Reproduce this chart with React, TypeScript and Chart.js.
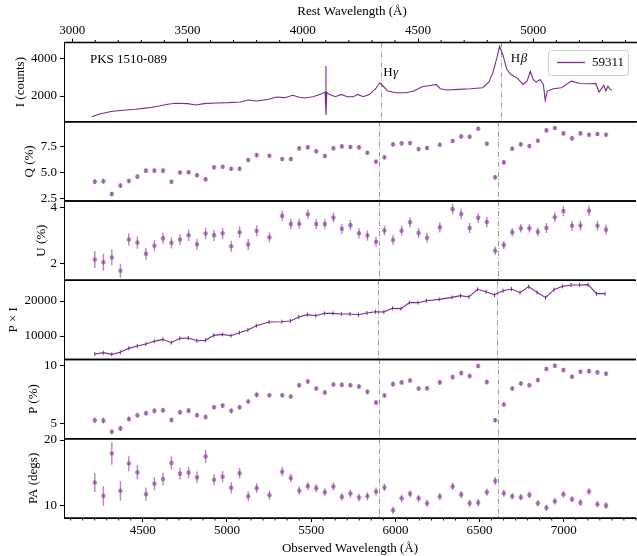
import React, { useEffect, useRef } from 'react';
import { Chart, registerables } from 'chart.js';

Chart.register(...registerables);

const FONT = "'Liberation Serif', 'Times New Roman', serif";
const LINE_COLOR = '#7a2a8c';
const PT_COLOR = 'rgba(122, 38, 142, 0.55)';
const Z1 = 1.36;
const OBS_MIN = 4032;
const OBS_MAX = 7429;
const LEFT_W = 64;
const CANVAS_W = 640;

const restLines = [4340, 4861];
const restTicks = [3000, 3500, 4000, 4500, 5000];
const obsTicks = [4500, 5000, 5500, 6000, 6500, 7000];

// binned polarimetry (observed wavelength, Å)
const binWl = [
  4215, 4266, 4316, 4367, 4417, 4468, 4519, 4569, 4620, 4670,
  4721, 4772, 4822, 4873, 4923, 4974, 5025, 5075, 5126, 5176,
  5252, 5328, 5379, 5429, 5480, 5530, 5581, 5632, 5682, 5733,
  5784, 5834, 5885, 5935, 5986, 6037, 6087, 6138, 6188, 6264,
  6340, 6391, 6441, 6492, 6543, 6593, 6644, 6694, 6745, 6796,
  6846, 6897, 6947, 6998, 7049, 7099, 7150, 7200, 7251,
];
const qVal = [
  4.11, 4.15, 2.92, 3.73, 4.18, 4.6, 5.18, 5.18, 5.18, 4.11,
  5.0, 5.02, 4.73, 4.34, 5.5, 5.56, 5.37, 5.37, 6.21, 6.69,
  6.63, 6.31, 6.31, 7.34, 7.44, 7.05, 6.6, 7.34, 7.53, 7.47,
  7.44, 6.92, 6.05, 6.47, 7.73, 7.82, 7.85, 7.27, 7.37, 7.69,
  8.05, 8.5, 8.47, 9.24, 7.79, 4.53, 5.98, 7.31, 7.73, 7.56,
  8.08, 9.08, 9.31, 8.79, 8.31, 8.79, 8.66, 8.73, 8.66,
];
const qErr = [
  0.25, 0.25, 0.22, 0.22, 0.22, 0.22, 0.22, 0.22, 0.22, 0.22,
  0.22, 0.22, 0.22, 0.22, 0.2, 0.2, 0.2, 0.2, 0.2, 0.2,
  0.2, 0.2, 0.2, 0.2, 0.2, 0.2, 0.2, 0.2, 0.2, 0.2,
  0.2, 0.2, 0.2, 0.2, 0.2, 0.2, 0.2, 0.2, 0.2, 0.2,
  0.2, 0.2, 0.2, 0.2, 0.2, 0.2, 0.2, 0.2, 0.2, 0.2,
  0.2, 0.2, 0.2, 0.2, 0.2, 0.2, 0.2, 0.2, 0.2,
];
const uVal = [
  2.16, 2.06, 2.23, 1.76, 2.87, 2.76, 2.36, 2.65, 2.91, 2.75,
  2.87, 3.02, 2.7, 3.08, 3.02, 3.09, 2.63, 3.13, 2.69, 3.18,
  2.95, 3.71, 3.42, 3.43, 3.77, 3.42, 3.42, 3.65, 3.25, 3.38,
  3.09, 3.01, 2.79, 3.19, 2.85, 3.18, 3.48, 3.1, 2.93, 3.3,
  3.95, 3.78, 3.28, 3.64, 3.49, 2.47, 2.67, 3.13, 3.27, 3.27,
  3.14, 3.28, 3.66, 3.88, 3.36, 3.37, 3.89, 3.36, 3.22,
];
const uErr = [
  0.3, 0.3, 0.28, 0.25, 0.22, 0.22, 0.22, 0.2, 0.2, 0.2,
  0.2, 0.2, 0.2, 0.2, 0.2, 0.2, 0.2, 0.2, 0.2, 0.2,
  0.18, 0.18, 0.18, 0.18, 0.18, 0.18, 0.18, 0.18, 0.18, 0.18,
  0.18, 0.18, 0.18, 0.18, 0.18, 0.18, 0.18, 0.18, 0.18, 0.18,
  0.18, 0.18, 0.18, 0.18, 0.18, 0.15, 0.15, 0.15, 0.15, 0.15,
  0.15, 0.18, 0.18, 0.18, 0.18, 0.18, 0.18, 0.18, 0.18,
];
const piVal = [
  4857, 5238, 4762, 5333, 6476, 7143, 7714, 8476, 9048, 8095,
  9333, 9429, 8667, 8762, 10190, 10476, 10095, 10952, 11714, 12952,
  14000, 14095, 14286, 15429, 16095, 15810, 16476, 16476, 16286, 16286,
  16095, 16571, 16952, 16857, 17905, 17810, 19524, 19524, 20095, 20476,
  21048, 21524, 21143, 23333, 22667, 21714, 22952, 23429, 22381, 24095,
  22476, 20952, 23238, 24190, 24571, 24571, 24667, 22095, 22095,
];
const pVal = [
  5.26, 5.23, 4.27, 4.56, 5.38, 5.7, 5.87, 6.08, 6.13, 5.29,
  5.96, 6.1, 5.7, 5.55, 6.4, 6.54, 6.08, 6.4, 6.89, 7.47,
  7.44, 7.44, 7.33, 8.31, 8.63, 8.02, 7.67, 8.37, 8.34, 8.31,
  8.2, 7.73, 6.8, 7.41, 8.4, 8.55, 8.72, 8.02, 8.05, 8.55,
  9.01, 9.36, 9.1, 9.97, 8.58, 5.26, 6.63, 8.02, 8.46, 8.31,
  8.75, 9.71, 10.0, 9.62, 9.04, 9.48, 9.53, 9.42, 9.3,
];
const pErr = [
  0.25, 0.25, 0.22, 0.22, 0.22, 0.22, 0.22, 0.22, 0.22, 0.22,
  0.22, 0.22, 0.22, 0.22, 0.2, 0.2, 0.2, 0.2, 0.2, 0.2,
  0.2, 0.2, 0.2, 0.2, 0.2, 0.2, 0.2, 0.2, 0.2, 0.2,
  0.2, 0.2, 0.2, 0.2, 0.2, 0.2, 0.2, 0.2, 0.2, 0.2,
  0.2, 0.2, 0.2, 0.2, 0.2, 0.2, 0.2, 0.2, 0.2, 0.2,
  0.2, 0.2, 0.2, 0.2, 0.2, 0.2, 0.2, 0.2, 0.2,
];
const paVal = [
  13.57, 11.53, 17.96, 12.3, 16.43, 15.1, 11.79, 13.37, 14.08, 16.53,
  14.9, 15.05, 14.34, 17.5, 13.98, 14.44, 12.76, 14.95, 11.48, 12.7,
  11.63, 15.2, 14.23, 12.3, 13.01, 12.7, 12.09, 12.96, 11.38, 11.89,
  11.28, 11.48, 12.19, 12.81, 9.34, 11.17, 11.84, 11.17, 10.41, 11.43,
  12.96, 11.73, 10.41, 10.51, 12.09, 13.78, 11.94, 11.48, 11.33, 11.68,
  10.41, 9.74, 10.71, 11.79, 11.02, 10.51, 12.19, 10.26, 10.05,
];
const paErr = [
  1.45, 1.5, 1.7, 1.5, 1.15, 1.1, 1.0, 1.0, 0.95, 1.0,
  0.9, 0.85, 0.9, 1.0, 0.85, 0.85, 0.85, 0.8, 0.75, 0.75,
  0.7, 0.7, 0.65, 0.65, 0.6, 0.6, 0.6, 0.6, 0.6, 0.6,
  0.6, 0.6, 0.6, 0.55, 0.55, 0.55, 0.55, 0.55, 0.55, 0.55,
  0.55, 0.55, 0.55, 0.55, 0.55, 0.6, 0.55, 0.5, 0.5, 0.5,
  0.5, 0.5, 0.5, 0.5, 0.5, 0.5, 0.5, 0.5, 0.5,
];

// total-flux spectrum (observed wavelength, counts)
const specWl = [
  4195, 4238, 4309, 4381, 4452, 4524, 4595, 4643, 4691, 4762,
  4810, 4857, 4929, 5000, 5072, 5119, 5167, 5239, 5286, 5334,
  5381, 5420, 5453, 5501, 5548, 5572, 5577, 5577, 5582, 5596,
  5632, 5667, 5703, 5739, 5763, 5798, 5834, 5870, 5894, 5917,
  5941, 5989, 6049, 6096, 6144, 6192, 6227, 6251, 6287, 6358,
  6430, 6501, 6537, 6561, 6585, 6601, 6620, 6644, 6668, 6704,
  6739, 6763, 6782, 6799, 6816, 6839, 6859, 6870, 6882, 6918,
  6966, 7025, 7073, 7144, 7168, 7187, 7216, 7228, 7240, 7252,
  7264,
];
const specCounts = [
  875, 1018, 1161, 1232, 1286, 1357, 1464, 1554, 1607, 1589,
  1518, 1589, 1625, 1643, 1679, 1786, 1732, 1821, 1946, 1911,
  2036, 1929, 1893, 1964, 2107, 2214, 3620, 970, 2200, 2089,
  1964, 2089, 1964, 1964, 2089, 1964, 2089, 2393, 2714, 2500,
  2268, 2179, 2179, 2268, 2500, 2571, 2625, 2393, 2321, 2357,
  2393, 2446, 2750, 3250, 4054, 4679, 4232, 3429, 3161, 2982,
  2625, 2804, 3339, 2893, 2750, 2893, 2625, 1768, 2268, 2393,
  2446, 2804, 2679, 2661, 2679, 2214, 2571, 2268, 2536, 2357,
  2321,
];

const EDGES = [42.5, 121.75, 201, 280.25, 359.5, 438.75, 518];
const IMG_H = 556;

type PanelDef = {
  title: string;
  titleX: number;
  min: number;
  max: number;
  ticks: number[];
  fmt: (v: number) => string;
  kind: 'spec' | 'points' | 'line';
  vals?: number[];
  errs?: number[];
};

const panels: PanelDef[] = [
  { title: 'I (counts)', titleX: 20.5, min: 610, max: 4890, ticks: [2000, 4000], fmt: (v) => String(v), kind: 'spec' },
  { title: 'Q (%)', titleX: 29.5, min: 2.24, max: 9.92, ticks: [2.5, 5.0, 7.5], fmt: (v) => v.toFixed(1), kind: 'points', vals: qVal, errs: qErr },
  { title: 'U (%)', titleX: 41.5, min: 1.42, max: 4.24, ticks: [2, 4], fmt: (v) => String(v), kind: 'points', vals: uVal, errs: uErr },
  { title: 'P \u00d7 I', titleX: 13.5, min: 3290, max: 25930, ticks: [10000, 20000], fmt: (v) => String(v), kind: 'line', vals: piVal },
  { title: 'P (%)', titleX: 34, min: 3.66, max: 10.54, ticks: [5, 10], fmt: (v) => String(v), kind: 'points', vals: pVal, errs: pErr },
  { title: 'PA (degs)', titleX: 34, min: 8.18, max: 20.19, ticks: [10, 20], fmt: (v) => String(v), kind: 'points', vals: paVal, errs: paErr },
];

const font13 = { family: FONT, size: 13 };

function layoutFor(i: number) {
  const PAD = 14;
  if (i === 0) {
    const h = Math.ceil(EDGES[1] + PAD);
    return { top: 0, height: h, padTop: 0, padBottom: h - EDGES[1] };
  }
  if (i === 5) {
    const top = Math.floor(EDGES[5] - PAD);
    return { top, height: IMG_H - top, padTop: EDGES[5] - top, padBottom: 0 };
  }
  const top = Math.floor(EDGES[i] - PAD);
  const bottom = Math.ceil(EDGES[i + 1] + PAD);
  return { top, height: bottom - top, padTop: EDGES[i] - top, padBottom: bottom - EDGES[i + 1] };
}

function decorPlugin(pi: number) {
  return {
    id: 'decor' + pi,
    beforeDatasetsDraw(chart: any) {
      const { ctx, chartArea: ca, scales } = chart;
      const xs = scales.x;
      ctx.save();
      ctx.beginPath();
      ctx.rect(ca.left, ca.top, ca.right - ca.left, ca.bottom - ca.top);
      ctx.clip();
      ctx.strokeStyle = '#999999';
      ctx.lineWidth = 1;
      ctx.setLineDash([5, 2, 1, 2]);
      restLines.forEach((r) => {
        const px = Math.round(xs.getPixelForValue(r * Z1)) + 0.5;
        ctx.beginPath();
        ctx.moveTo(px, ca.top);
        ctx.lineTo(px, ca.bottom);
        ctx.stroke();
      });
      ctx.setLineDash([]);
      chart.data.datasets.forEach((d: any, di: number) => {
        if (!d.errors) return;
        const meta = chart.getDatasetMeta(di);
        const ys = scales[meta.yAxisID];
        ctx.strokeStyle = PT_COLOR;
        ctx.lineWidth = 1.4;
        meta.data.forEach((pt: any, k: number) => {
          const v = d.data[k].y;
          const e = d.errors[k] || 0;
          ctx.beginPath();
          ctx.moveTo(pt.x, ys.getPixelForValue(v - e));
          ctx.lineTo(pt.x, ys.getPixelForValue(v + e));
          ctx.stroke();
        });
      });
      ctx.restore();
    },
    afterDraw(chart: any) {
      const { ctx, chartArea: ca, scales } = chart;
      const xs = scales.x;
      ctx.save();
      ctx.strokeStyle = '#000';
      ctx.lineWidth = 1.3;
      ctx.beginPath();
      ctx.moveTo(ca.left, ca.top);
      ctx.lineTo(ca.right, ca.top);
      ctx.moveTo(ca.left, ca.bottom);
      ctx.lineTo(ca.right, ca.bottom);
      ctx.stroke();
      ctx.lineWidth = 1;
      if (pi === 0) {
        const xr = scales.xr;
        ctx.beginPath();
        for (let r = 2900; r <= 5500; r += 100) {
          if (r % 500 === 0) continue;
          const px = xr.getPixelForValue(r);
          if (px < ca.left || px > ca.right) continue;
          ctx.moveTo(px, ca.top);
          ctx.lineTo(px, ca.top - 2.5);
        }
        ctx.stroke();
        ctx.fillStyle = '#000';
        ctx.font = `13px ${FONT}`;
        ctx.textBaseline = 'middle';
        ctx.textAlign = 'left';
        ctx.fillText('PKS 1510-089', ca.left + 26, ca.top + 17);
        const lab = (gx: number, gy: number, greek: string) => {
          ctx.font = `13px ${FONT}`;
          ctx.fillText('H', gx, gy);
          const w = ctx.measureText('H').width;
          ctx.font = `italic 13px ${FONT}`;
          ctx.fillText(greek, gx + w + 0.5, gy);
        };
        lab(xs.getPixelForValue(restLines[0] * Z1) + 2, ca.top + 30.5, '\u03b3');
        lab(xs.getPixelForValue(restLines[1] * Z1) + 9.5, ca.top + 16.5, '\u03b2');
        const bx = ca.right - 92;
        const by = ca.top + 7.5;
        ctx.beginPath();
        ctx.roundRect(bx + 0.5, by + 0.5, 80, 25, 3);
        ctx.fillStyle = 'rgba(255,255,255,0.85)';
        ctx.fill();
        ctx.strokeStyle = '#cccccc';
        ctx.stroke();
        ctx.strokeStyle = LINE_COLOR;
        ctx.lineWidth = 1.3;
        ctx.beginPath();
        ctx.moveTo(bx + 9, by + 12.5);
        ctx.lineTo(bx + 37, by + 12.5);
        ctx.stroke();
        ctx.fillStyle = '#000';
        ctx.font = `13px ${FONT}`;
        ctx.fillText('59311', bx + 44, by + 13);
      }
      if (pi === 5) {
        ctx.strokeStyle = '#000';
        ctx.beginPath();
        for (let m = 4000; m <= 7500; m += 500) {
          for (let j = 1; j < 7; j++) {
            const v = m + (j * 500) / 7;
            const px = xs.getPixelForValue(v);
            if (px < ca.left || px > ca.right) continue;
            ctx.moveTo(px, ca.bottom);
            ctx.lineTo(px, ca.bottom + 2.5);
          }
        }
        ctx.stroke();
      }
      ctx.restore();
    },
  };
}

function buildConfig(pi: number): any {
  const def = panels[pi];
  const lay = layoutFor(pi);
  const isBottom = pi === 5;
  const datasets: any[] = [];
  if (def.kind === 'spec') {
    datasets.push({
      data: specWl.map((x, k) => ({ x, y: specCounts[k] })),
      showLine: true,
      borderColor: LINE_COLOR,
      borderWidth: 1.1,
      pointRadius: 0,
      tension: 0,
    });
  } else if (def.kind === 'line') {
    datasets.push({
      data: binWl.map((x, k) => ({ x, y: def.vals![k] })),
      showLine: true,
      borderColor: LINE_COLOR,
      borderWidth: 1.1,
      pointStyle: 'line',
      rotation: 90,
      pointRadius: 2,
      pointBorderColor: LINE_COLOR,
      pointBorderWidth: 1,
    });
  } else {
    datasets.push({
      data: binWl.map((x, k) => ({ x, y: def.vals![k] })),
      errors: def.errs,
      showLine: false,
      pointRadius: 2.3,
      pointBackgroundColor: PT_COLOR,
      pointBorderWidth: 0,
    });
  }
  const scales: any = {
    x: {
      type: 'linear',
      position: 'bottom',
      min: OBS_MIN,
      max: OBS_MAX,
      display: isBottom,
      afterBuildTicks: (s: any) => {
        s.ticks = obsTicks.map((v) => ({ value: v }));
      },
      afterFit: (s: any) => {
        if (isBottom) s.height = IMG_H - EDGES[6];
      },
      ticks: { autoSkip: false, maxRotation: 0, padding: 1, color: '#000', font: font13, callback: (v: number) => String(v) },
      grid: { drawOnChartArea: false, drawTicks: true, tickLength: 4, tickColor: '#000', color: '#000' },
      border: { display: true, color: '#000', width: 1 },
      title: { display: isBottom, text: 'Observed Wavelength (\u00c5)', color: '#000', font: font13, padding: { top: 0, bottom: 0 } },
    },
    y: {
      type: 'linear',
      position: 'left',
      min: def.min,
      max: def.max,
      afterBuildTicks: (s: any) => {
        s.ticks = def.ticks.map((v) => ({ value: v }));
      },
      afterFit: (s: any) => {
        s.width = LEFT_W;
      },
      ticks: { autoSkip: false, padding: 3, color: '#000', font: font13, callback: (v: number) => def.fmt(v) },
      grid: { drawOnChartArea: false, drawTicks: true, tickLength: 4, tickColor: '#000', color: '#000' },
      border: { display: true, color: '#000', width: 1 },
      title: { display: true, text: def.title, color: '#000', font: font13, padding: { top: def.titleX - 7.8, bottom: 0 } },
    },
  };
  if (pi === 0) {
    scales.xr = {
      type: 'linear',
      position: 'top',
      min: OBS_MIN / Z1,
      max: OBS_MAX / Z1,
      afterBuildTicks: (s: any) => {
        s.ticks = restTicks.map((v) => ({ value: v }));
      },
      afterFit: (s: any) => {
        s.height = EDGES[0];
      },
      ticks: { autoSkip: false, maxRotation: 0, padding: 0, color: '#000', font: font13, callback: (v: number) => String(v) },
      grid: { drawOnChartArea: false, drawTicks: true, tickLength: 4, tickColor: '#000', color: '#000' },
      border: { display: true, color: '#000', width: 1 },
      title: { display: true, text: 'Rest Wavelength (\u00c5)', color: '#000', font: font13, padding: { top: 4, bottom: 0 } },
    };
  }
  return {
    type: 'scatter',
    data: { datasets },
    options: {
      responsive: false,
      animation: false,
      devicePixelRatio: 1,
      layout: { padding: { left: 0, right: 0, top: lay.padTop, bottom: lay.padBottom } },
      plugins: { legend: { display: false }, tooltip: { enabled: false } },
      scales,
    },
    plugins: [decorPlugin(pi)],
  };
}

export default function App() {
  const refs = useRef<(HTMLCanvasElement | null)[]>([]);
  useEffect(() => {
    Chart.defaults.font.family = FONT;
    Chart.defaults.color = '#000';
    const charts = panels.map((_, i) => {
      const c = refs.current[i]!;
      return new Chart(c, buildConfig(i));
    });
    return () => charts.forEach((ch) => ch.destroy());
  }, []);
  return (
    <div style={{ position: 'fixed', left: 0, top: 0, width: 637, height: IMG_H, overflow: 'hidden', background: '#fff' }}>
      {panels.map((_, i) => {
        const lay = layoutFor(i);
        return (
          <canvas
            key={i}
            ref={(el) => {
              refs.current[i] = el;
            }}
            width={CANVAS_W}
            height={lay.height}
            style={{ position: 'absolute', left: 0, top: lay.top, width: CANVAS_W, height: lay.height, display: 'block' }}
          />
        );
      })}
    </div>
  );
}
